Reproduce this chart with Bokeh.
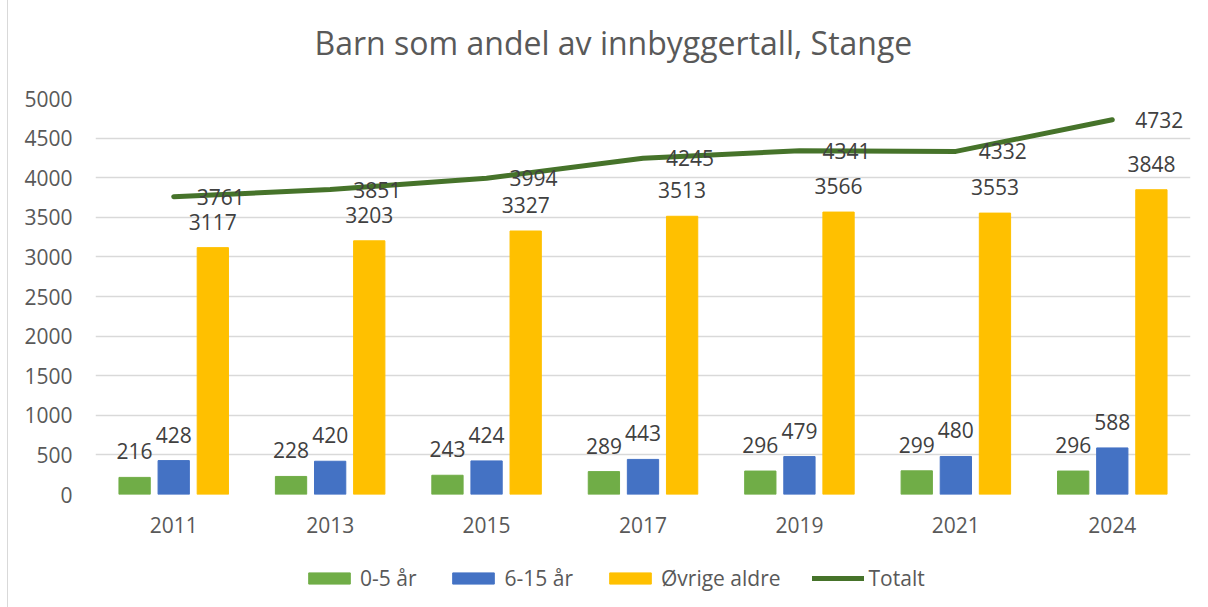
from bokeh.plotting import figure
from bokeh.layouts import column
from bokeh.models import (ColumnDataSource, FactorRange, Range1d, LabelSet, Label,
                          Legend, LegendItem, FixedTicker)
from bokeh.core.properties import value
from bokeh.transform import dodge
from bokeh.embed import file_html
from bokeh.resources import INLINE

years = ["2011", "2013", "2015", "2017", "2019", "2021", "2024"]
age_0_5 = [216, 228, 243, 289, 296, 299, 296]
age_6_15 = [428, 420, 424, 443, 479, 480, 588]
ovrige = [3117, 3203, 3327, 3513, 3566, 3553, 3848]
totalt = [3761, 3851, 3994, 4245, 4341, 4332, 4732]
y_ticks = [0, 500, 1000, 1500, 2000, 2500, 3000, 3500, 4000, 4500, 5000]
series_names = ["0-5 år", "6-15 år", "Øvrige aldre", "Totalt"]
colors = ["#70AD47", "#4472C4", "#FFC000", "#46732A"]
title_text = "Barn som andel av innbyggertall, Stange"

FONT = "Open Sans"
TXT = "#595959"
LBL = "#404040"
FS = "21px"
EDGE = {"margin-left": "7px", "border-left": "1px solid #d9d9d9"}


def strip(h):
    f = figure(width=1200, height=h, x_range=Range1d(0, 1), y_range=Range1d(0, h),
               output_backend="svg", toolbar_location=None,
               min_border_left=0, min_border_right=0, min_border_top=0, min_border_bottom=0)
    f.styles = EDGE
    f.axis.visible = False
    f.grid.visible = False
    f.outline_line_color = None
    return f


# title strip above the chart (frames of the column are aligned)
tf = strip(70)
tf.add_layout(Label(x=0.473, y=28, text=title_text, text_align="center",
                    text_baseline="middle", text_font=FONT, text_font_size="32px",
                    text_color=TXT))

src = ColumnDataSource(dict(
    year=years, a=age_0_5, b=age_6_15, c=ovrige, t=totalt,
    a_s=[str(v) for v in age_0_5], b_s=[str(v) for v in age_6_15],
    c_s=[str(v) for v in ovrige], t_s=[str(v) for v in totalt],
))

p = figure(width=1200, height=475, x_range=FactorRange(*years), y_range=Range1d(0, 5000),
           output_backend="svg", toolbar_location=None,
           min_border_left=87, min_border_right=18, min_border_top=28, min_border_bottom=51)
p.styles = EDGE
p.outline_line_color = None
p.background_fill_color = "white"
p.border_fill_color = "white"

p.xgrid.grid_line_color = None
p.ygrid.grid_line_color = "#d9d9d9"
p.ygrid.grid_line_width = 1.5
p.yaxis.ticker = FixedTicker(ticks=y_ticks)

for ax in (p.xaxis[0], p.yaxis[0]):
    ax.axis_line_color = None
    ax.major_tick_line_color = None
    ax.minor_tick_line_color = None
    ax.major_label_text_font = FONT
    ax.major_label_text_font_size = FS
    ax.major_label_text_color = TXT
p.yaxis.major_label_standoff = 17
p.xaxis.major_label_standoff = 16

rg = p.x_range
p.vbar(x=dodge("year", -0.25, range=rg), top="a", width=0.2, source=src, color=colors[0])
p.vbar(x=dodge("year", 0.0, range=rg), top="b", width=0.2, source=src, color=colors[1])
p.vbar(x=dodge("year", 0.25, range=rg), top="c", width=0.2, source=src, color=colors[2])
p.line(x="year", y="t", source=src, line_color=colors[3], line_width=5, line_cap="round")

for off, fld, txt in ((-0.25, "a", "a_s"), (0.0, "b", "b_s"), (0.25, "c", "c_s")):
    p.add_layout(LabelSet(x=dodge("year", off, range=rg), y=fld, text=txt, source=src,
                          text_align="center", text_baseline="alphabetic", y_offset=18,
                          text_font=value(FONT), text_font_size=value(FS), text_color=LBL))
p.add_layout(LabelSet(x="year", y="t", text="t_s", source=src, text_align="left",
                      text_baseline="middle", x_offset=23,
                      text_font=value(FONT), text_font_size=value(FS), text_color=LBL))

# legend strip below the chart
lf = strip(62)
lr = [lf.vbar(x=[0.5], top=[-10], bottom=[-11], width=0.1, color=colors[0]),
      lf.vbar(x=[0.5], top=[-10], bottom=[-11], width=0.1, color=colors[1]),
      lf.vbar(x=[0.5], top=[-10], bottom=[-11], width=0.1, color=colors[2]),
      lf.line(x=[0.4, 0.6], y=[-10, -11], line_color=colors[3], line_width=5, line_cap="round")]
legend = Legend(items=[LegendItem(label=n, renderers=[r]) for n, r in zip(series_names, lr)],
                orientation="horizontal", location=(208, 15), padding=0, margin=0,
                spacing=31, label_standoff=5, glyph_width=52, glyph_height=14,
                label_text_font=FONT, label_text_font_size=FS, label_text_color=TXT,
                border_line_color=None, background_fill_alpha=0)
lf.add_layout(legend)

open("out.html", "w").write(file_html(column(tf, p, lf, spacing=0), INLINE))
